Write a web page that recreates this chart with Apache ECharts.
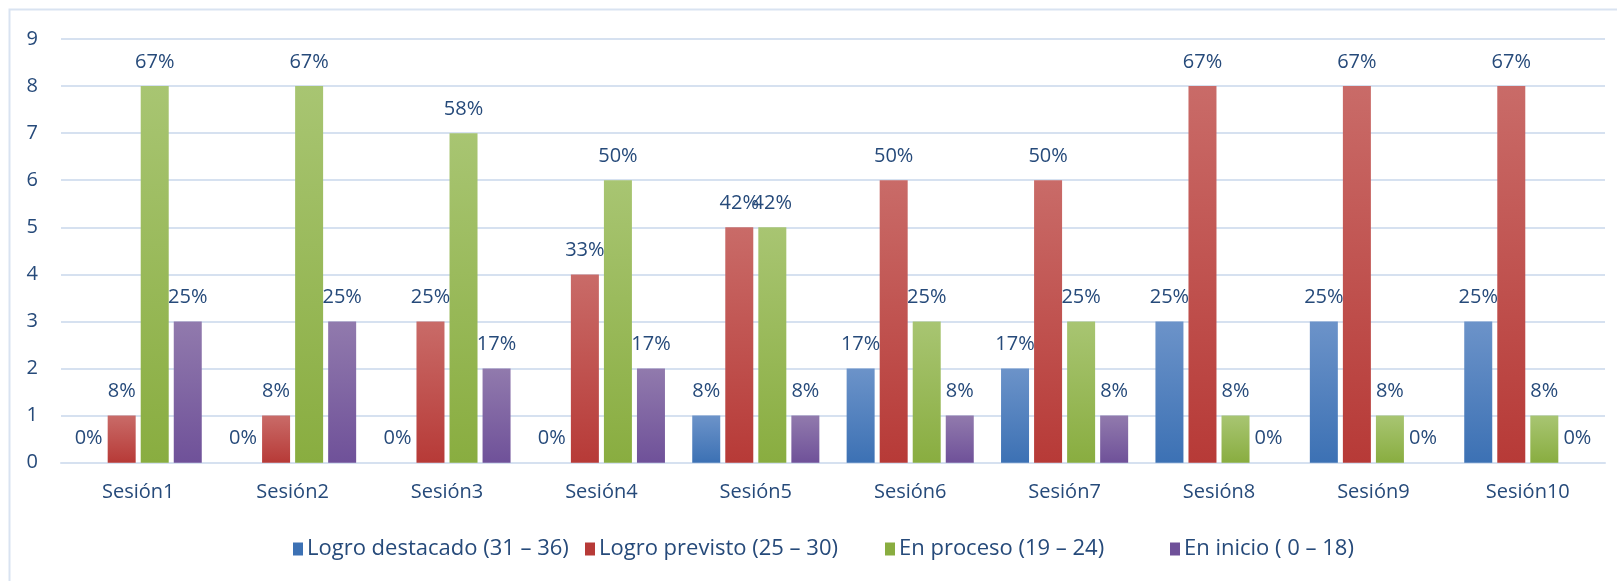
<!DOCTYPE html>
<html>
<head>
<meta charset="utf-8">
<script src="https://cdn.jsdelivr.net/npm/echarts@6/dist/echarts.min.js"></script>
<style>
html,body{margin:0;padding:0;background:#fff;}
#c{width:1617px;height:581px;}
</style>
</head>
<body>
<div id="c"></div>
<script>
const categories = ['Sesión1','Sesión2','Sesión3','Sesión4','Sesión5','Sesión6','Sesión7','Sesión8','Sesión9','Sesión10'];
const logroDestacado = [0,0,0,0,1,2,2,3,3,3];
const logroPrevisto = [1,1,3,4,5,6,6,8,8,8];
const enProceso = [8,8,7,6,5,3,3,1,1,1];
const enInicio = [3,3,2,2,1,1,1,0,0,0];
const totalStudents = 12;
const seriesNames = ['Logro destacado (31 – 36)','Logro previsto (25 – 30)','En proceso (19 – 24)','En inicio ( 0 – 18)'];
const yTicks = [0,1,2,3,4,5,6,7,8,9];

const textColor = '#264a7a';
const font = 'Open Sans';
const grads = [
  ['#6c93c9','#3c71b4'],
  ['#c96b68','#b73a37'],
  ['#a8c572','#89ad40'],
  ['#917aad','#6f5199']
];
const legendLefts = [288, 580, 880, 1165];
function grad(i){
  return new echarts.graphic.LinearGradient(0,0,0,1,[{offset:0,color:grads[i][0]},{offset:1,color:grads[i][1]}]);
}
const dataSets = [logroDestacado, logroPrevisto, enProceso, enInicio];
const series = dataSets.map((d,i)=>({
  name: seriesNames[i],
  type: 'bar',
  data: d,
  barWidth: 28,
  barGap: '18%',
  itemStyle: {color: grad(i)},
  label: {
    show: true,
    position: 'top',
    distance: 14,
    color: textColor,
    fontFamily: font,
    fontSize: 20,
    formatter: p => Math.round(p.value / totalStudents * 100) + '%'
  },
  emphasis: {disabled: true}
}));

const legends = seriesNames.map((n,i)=>({
  data: [{name:n, itemStyle:{color: grads[i][1]}}],
  left: legendLefts[i],
  top: 533,
  itemWidth: 10,
  itemHeight: 13,
  icon: 'rect',
  selectedMode: false,
  textStyle: {color: textColor, fontFamily: font, fontSize: 22, padding: [0,0,0,-1]}
}));

const chart = echarts.init(document.getElementById('c'));
chart.setOption({
  animation: false,
  graphic: [{
    type: 'rect',
    shape: {x: 9.5, y: 9.5, width: 1620, height: 600},
    style: {fill: 'none', stroke: '#d9e3f1', lineWidth: 2},
    silent: true
  }],
  grid: {left: 61, right: 12, top: 39, bottom: 118.3, containLabel: false},
  legend: legends,
  xAxis: {
    type: 'category',
    data: categories,
    axisLine: {show: true, lineStyle: {color: '#d6e1f0', width: 2}},
    axisTick: {show: false},
    axisLabel: {color: textColor, fontFamily: font, fontSize: 20, margin: 20}
  },
  yAxis: {
    type: 'value',
    min: yTicks[0],
    max: yTicks[yTicks.length-1],
    interval: 1,
    axisLine: {show: false},
    axisTick: {show: false},
    splitLine: {lineStyle: {color: '#d6e1f0', width: 2}},
    axisLabel: {color: textColor, fontFamily: font, fontSize: 20, margin: 23}
  },
  series: series
});
</script>
</body>
</html>
